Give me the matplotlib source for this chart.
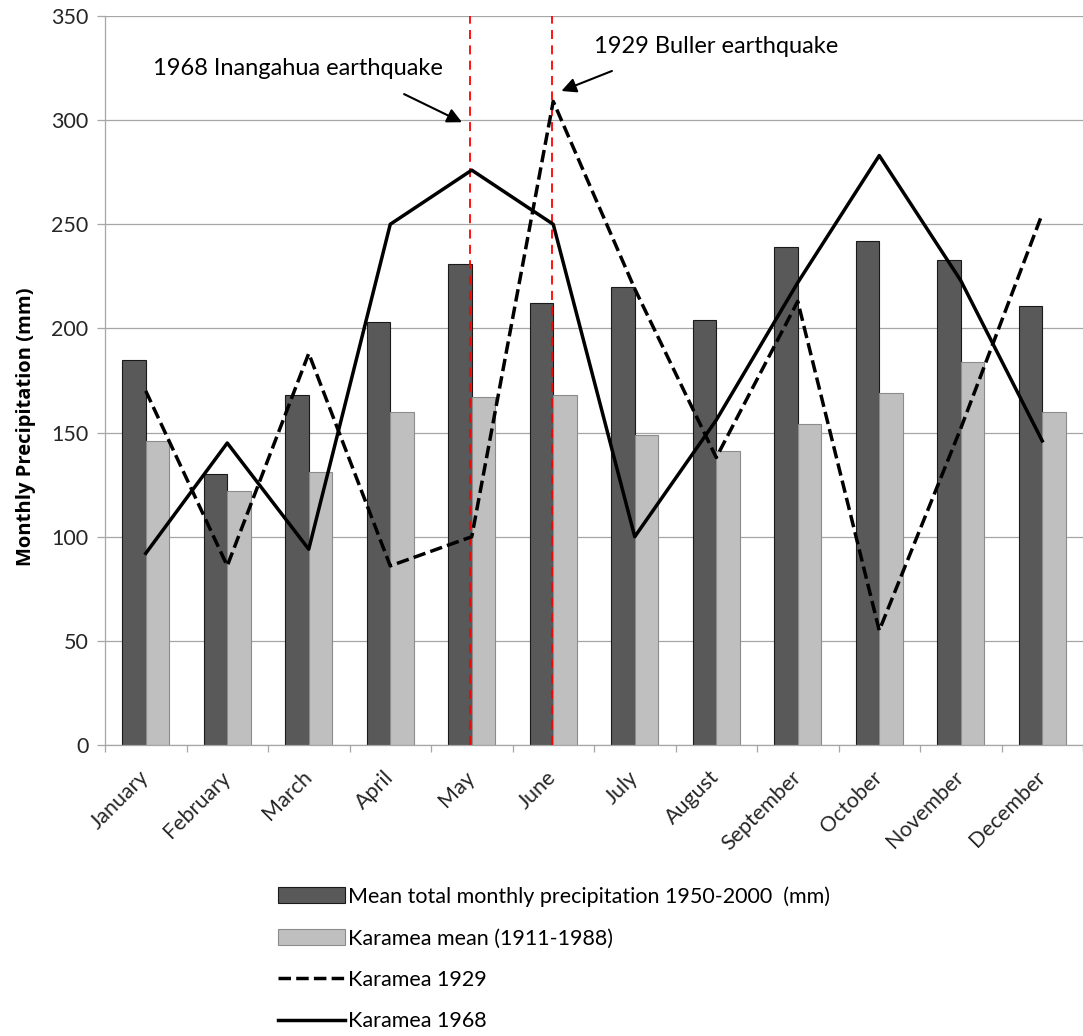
import matplotlib
matplotlib.use("Agg")
import matplotlib.pyplot as plt
import numpy as np

plt.rcParams['font.family'] = ['Lato', 'DejaVu Sans']

months = ['January', 'February', 'March', 'April', 'May', 'June', 'July',
          'August', 'September', 'October', 'November', 'December']
mean_1950_2000 = [185, 130, 168, 203, 231, 212, 220, 204, 239, 242, 233, 211]
karamea_mean = [146, 122, 131, 160, 167, 168, 149, 141, 154, 169, 184, 160]
karamea_1929 = [170, 86, 188, 86, 100, 309, 219, 138, 213, 55, 152, 255]
karamea_1968 = [92, 145, 94, 250, 276, 250, 100, 156, 222, 283, 223, 146]

quake_1968_month = 'May'
quake_1929_month = 'June'

fig = plt.figure(figsize=(10.83, 10.36), dpi=100)
ax = fig.add_axes([105 / 1083, 291 / 1036, 978 / 1083, 729 / 1036])

x = np.arange(len(months))
w = 0.286
b1 = ax.bar(x - w / 2, mean_1950_2000, w, color='#595959', edgecolor='#1a1a1a',
            linewidth=0.8, zorder=2)
b2 = ax.bar(x + w / 2, karamea_mean, w, color='#bfbfbf', edgecolor='#8c8c8c',
            linewidth=0.8, zorder=2)

# earthquake markers
for m in (quake_1968_month, quake_1929_month):
    ax.axvline(months.index(m) - 0.02, color='red', lw=1.3,
               dashes=(5, 3.5), zorder=3)

l1, = ax.plot(x, karamea_1929, color='black', lw=2.5, dashes=(3.6, 1.5),
              zorder=4)
l2, = ax.plot(x, karamea_1968, color='black', lw=2.5, zorder=4)

ax.set_xlim(-0.5, 11.475)
ax.set_ylim(0, 350)
ax.set_yticks(np.arange(0, 351, 50))
ax.grid(axis='y', color='#a6a6a6', lw=0.9, zorder=0)
ax.set_axisbelow(True)

ax.set_xticks(x)
ax.set_xticklabels(months, rotation=45, ha='right', va='center',
                   rotation_mode='anchor', fontsize=15.5, color='#262626')
ax.set_xticks(np.arange(-0.5, 12, 1), minor=True)
ax.tick_params(axis='x', which='major', length=0, pad=21)
ax.tick_params(axis='x', which='minor', length=5, color='#a6a6a6', width=0.9)
ax.tick_params(axis='y', length=6, color='#a6a6a6', width=0.9,
               labelsize=15.5, labelcolor='#262626', pad=6)

for s in ('top', 'right'):
    ax.spines[s].set_visible(False)
for s in ('left', 'bottom'):
    ax.spines[s].set_color('#a6a6a6')
    ax.spines[s].set_linewidth(0.9)

ax.set_ylabel('Monthly Precipitation (mm)', fontsize=14.5, fontweight='bold',
              family=['Open Sans', 'DejaVu Sans'])
ax.yaxis.set_label_coords(-0.071, 0.436)

ax.annotate('', xy=(3.88, 299), xytext=(3.17, 312.5),
            arrowprops=dict(arrowstyle='-|>', color='black', lw=1.5,
                            mutation_scale=22, shrinkA=0, shrinkB=0))
ax.text(0.09, 325, '1968 Inangahua earthquake', fontsize=17,
        va='center', ha='left')
ax.annotate('', xy=(5.1, 314), xytext=(5.72, 323.6),
            arrowprops=dict(arrowstyle='-|>', color='black', lw=1.5,
                            mutation_scale=22, shrinkA=0, shrinkB=0))
ax.text(5.5, 335.5, '1929 Buller earthquake', fontsize=17,
        va='center', ha='left')

fig.legend([b1, b2, l1, l2],
           ['Mean total monthly precipitation 1950-2000  (mm)',
            'Karamea mean (1911-1988)', 'Karamea 1929', 'Karamea 1968'],
           loc='upper left', bbox_to_anchor=(278 / 1083, 0.1445),
           frameon=False, fontsize=15.5, handlelength=3.1, handleheight=0.75,
           handletextpad=0.15, labelspacing=1.0, borderpad=0,
           borderaxespad=0)

fig.savefig('out.png', dpi=100)
